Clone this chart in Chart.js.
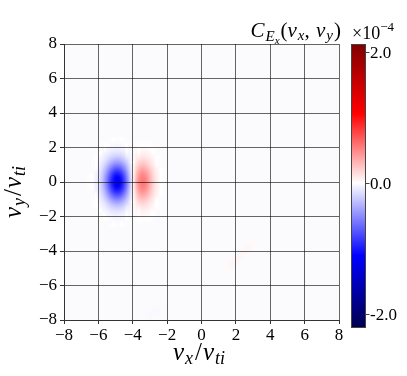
<!DOCTYPE html>
<html><head><meta charset="utf-8">
<script src="https://cdn.jsdelivr.net/npm/chart.js@4/dist/chart.umd.min.js"></script>
<style>html,body{margin:0;padding:0;background:#fff;}#wrap{width:407px;height:376px;position:relative;}</style>
</head><body><div id="wrap"><canvas id="c" width="407" height="376"></canvas></div>
<script>
// ---- data (values in units of 1e-4) ----
const vxCells = [-7.0,-6.75,-6.5,-6.25,-6.0,-5.75,-5.5,-5.25,-5.0,-4.75,-4.5,-4.25,-4.0,-3.75,-3.5,-3.25,-3.0,-2.75,-2.5,-2.25,-2.0];
const vyCells = [2.5,2.25,2.0,1.75,1.5,1.25,1.0,0.75,0.5,0.25,0,-0.25,-0.5,-0.75,-1.0,-1.25,-1.5,-1.75,-2.0,-2.25,-2.5];
const valuesE4 = [
 [0,0,0,0,0,0,0,-0.01,-0.01,-0.01,-0.01,0,0,0,0,0,0,0,0,0,0],
 [0,0,0,0,0,-0.01,-0.01,-0.02,-0.02,-0.02,-0.02,-0.01,0,0.01,0.01,0.01,0.01,0,0,0,0],
 [0,0,0,0,0,-0.01,-0.03,-0.04,-0.05,-0.05,-0.04,-0.02,0,0.02,0.03,0.02,0.01,0.01,0,0,0],
 [0,0,0,0,-0.01,-0.03,-0.05,-0.09,-0.11,-0.10,-0.08,-0.04,0,0.03,0.05,0.05,0.03,0.01,0,0,0],
 [0,0,0,-0.01,-0.02,-0.05,-0.10,-0.16,-0.20,-0.20,-0.15,-0.07,0,0.07,0.10,0.09,0.06,0.03,0.01,0,0],
 [0,0,0,-0.01,-0.03,-0.08,-0.17,-0.28,-0.35,-0.34,-0.25,-0.12,0.01,0.11,0.17,0.16,0.10,0.04,0.01,0,0],
 [0,0,0,-0.01,-0.05,-0.13,-0.27,-0.43,-0.54,-0.52,-0.39,-0.19,0.01,0.17,0.26,0.24,0.15,0.07,0.02,0,0],
 [0,0,0,-0.02,-0.07,-0.18,-0.38,-0.60,-0.76,-0.74,-0.54,-0.27,0.01,0.24,0.37,0.34,0.22,0.10,0.03,0.01,0],
 [0,0,-0.01,-0.03,-0.09,-0.23,-0.48,-0.77,-0.97,-0.94,-0.70,-0.34,0.01,0.31,0.47,0.44,0.28,0.12,0.04,0.01,0],
 [0,0,-0.01,-0.03,-0.10,-0.27,-0.56,-0.89,-1.12,-1.09,-0.80,-0.40,0.02,0.36,0.54,0.51,0.32,0.14,0.04,0.01,0],
 [0,0,-0.01,-0.03,-0.11,-0.28,-0.58,-0.94,-1.18,-1.14,-0.85,-0.42,0.02,0.38,0.57,0.53,0.34,0.15,0.05,0.01,0],
 [0,0,-0.01,-0.03,-0.10,-0.27,-0.56,-0.89,-1.12,-1.09,-0.80,-0.40,0.02,0.36,0.54,0.51,0.32,0.14,0.04,0.01,0],
 [0,0,-0.01,-0.03,-0.09,-0.23,-0.48,-0.77,-0.97,-0.94,-0.70,-0.34,0.01,0.31,0.47,0.44,0.28,0.12,0.04,0.01,0],
 [0,0,0,-0.02,-0.07,-0.18,-0.38,-0.60,-0.76,-0.74,-0.54,-0.27,0.01,0.24,0.37,0.34,0.22,0.10,0.03,0.01,0],
 [0,0,0,-0.01,-0.05,-0.13,-0.27,-0.43,-0.54,-0.52,-0.39,-0.19,0.01,0.17,0.26,0.24,0.15,0.07,0.02,0,0],
 [0,0,0,-0.01,-0.03,-0.08,-0.17,-0.28,-0.35,-0.34,-0.25,-0.12,0.01,0.11,0.17,0.16,0.10,0.04,0.01,0,0],
 [0,0,0,-0.01,-0.02,-0.05,-0.10,-0.16,-0.20,-0.20,-0.15,-0.07,0,0.07,0.10,0.09,0.06,0.03,0.01,0,0],
 [0,0,0,0,-0.01,-0.03,-0.05,-0.09,-0.11,-0.10,-0.08,-0.04,0,0.03,0.05,0.05,0.03,0.01,0,0,0],
 [0,0,0,0,0,-0.01,-0.03,-0.04,-0.05,-0.05,-0.04,-0.02,0,0.02,0.03,0.02,0.01,0.01,0,0,0],
 [0,0,0,0,0,-0.01,-0.01,-0.02,-0.02,-0.02,-0.02,-0.01,0,0.01,0.01,0.01,0.01,0,0,0,0],
 [0,0,0,0,0,0,0,-0.01,-0.01,-0.01,-0.01,0,0,0,0,0,0,0,0,0,0]
];
// faint streaks elsewhere in the plane
const streakVx = [1.5,1.75,2.0,2.25,2.5,2.75,3.0,-3.25,-3.0,-2.75,-2.5,-2.25,-2.0];
const streakVy = [-5.0,-4.75,-4.5,-4.25,-4.0,-3.75,-3.5,-7.75,-7.75,-7.5,-7.5,-7.25,-7.25];
const streakV  = [0.03,0.04,0.05,0.05,0.05,0.04,0.03,-0.02,-0.03,-0.03,-0.03,-0.02,-0.02];
const cellSize = 0.25;
const axisTicks = [-8,-6,-4,-2,0,2,4,6,8];
const cbTicks = [2.0, 0.0, -2.0];
const cbTickLabels = ['2.0','0.0','-2.0'];
const vMin = -2.22, vMax = 2.13;

const SERIF = '"Liberation Serif", "DejaVu Serif", serif';
const seismic = [[0,[0,0,77]],[0.25,[0,0,255]],[0.5,[255,255,255]],[0.75,[255,0,0]],[1,[128,0,0]]];
function cmapRGB(v){
  let t = v<0 ? 0.5*(v - vMin)/(0 - vMin) : 0.5 + 0.5*v/vMax;
  t = Math.max(0, Math.min(1, t));
  for (let i=0;i<seismic.length-1;i++){
    const [a,ca]=seismic[i],[b,cb]=seismic[i+1];
    if (t<=b){ const f=(t-a)/(b-a); return [0,1,2].map(k=>Math.round(ca[k]+(cb[k]-ca[k])*f)); }
  }
  return [128,0,0];
}
const cmap = v => { const c=cmapRGB(v); return `rgb(${c[0]},${c[1]},${c[2]})`; };
function drawParts(ctx, parts, x, y, align){
  let w=0; const ws=[];
  for (const p of parts){ ctx.font=(p[2]?'italic ':'')+p[1]+'px '+SERIF; const m=ctx.measureText(p[0]).width+(p[4]||0); ws.push(m); w+=m; }
  let cx = align==='right'? x-w : align==='center'? x-w/2 : x;
  ctx.textAlign='left'; ctx.textBaseline='alphabetic';
  parts.forEach((p,i)=>{ ctx.font=(p[2]?'italic ':'')+p[1]+'px '+SERIF; ctx.fillText(p[0], cx, y+p[3]); cx+=ws[i]; });
}
const fmt = v => (v<0?'\u2212':'')+Math.abs(v);

const heatmap = {
  id:'heatmap',
  beforeDraw(chart){
    const ctx=chart.ctx, a=chart.chartArea, xs=chart.scales.x, ys=chart.scales.y;
    ctx.save();
    ctx.fillStyle='#fbfbfd'; ctx.fillRect(a.left,a.top,a.right-a.left,a.bottom-a.top);
    const W=vxCells.length, H=vyCells.length;
    const off=document.createElement('canvas'); off.width=W; off.height=H;
    const octx=off.getContext('2d'); const img=octx.createImageData(W,H);
    vyCells.forEach((vy,r)=>vxCells.forEach((vx,c)=>{
      const v=valuesE4[r][c], col=cmapRGB(v), k=(r*W+c)*4;
      img.data[k]=col[0]; img.data[k+1]=col[1]; img.data[k+2]=col[2]; img.data[k+3]= v===0?0:255;
    }));
    octx.putImageData(img,0,0);
    const x0=xs.getPixelForValue(vxCells[0]-cellSize/2), x1=xs.getPixelForValue(vxCells[W-1]+cellSize/2);
    const y0=ys.getPixelForValue(vyCells[0]+cellSize/2), y1=ys.getPixelForValue(vyCells[H-1]-cellSize/2);
    ctx.imageSmoothingEnabled=true; ctx.imageSmoothingQuality='high';
    ctx.drawImage(off,x0,y0,x1-x0,y1-y0);
    ctx.globalAlpha=0.7;
    streakVx.forEach((vx,i)=>{
      const vy=streakVy[i];
      const cx=xs.getPixelForValue(vx), cy=ys.getPixelForValue(vy);
      const r=Math.abs(xs.getPixelForValue(cellSize)-xs.getPixelForValue(0));
      ctx.fillStyle=cmap(streakV[i]); ctx.beginPath(); ctx.arc(cx,cy,r*0.9,0,Math.PI*2); ctx.fill();
    });
    ctx.restore();
  },
  afterDraw(chart){
    const ctx=chart.ctx;
    ctx.save(); ctx.fillStyle='#000';
    drawParts(ctx,[['v',25,true,0,1],['x',18,true,4,2],['/',25,false,0,1],['v',25,true,0,1],['ti',18,true,4,0]],199,360,'center');
    ctx.save(); ctx.translate(21,192); ctx.rotate(-Math.PI/2);
    drawParts(ctx,[['v',25,true,0,1],['y',18,true,4,2],['/',25,false,0,1],['v',25,true,0,1],['ti',18,true,4,0]],0,0,'center');
    ctx.restore();
    drawParts(ctx,[['C',21,true,0,1],['E',15,true,4,0],['x',11,true,7,1],['(',21,false,0,0],['v',21,true,0,1],['x',15,true,3,0],[', ',21,false,0,1],['v',21,true,0,1],['y',15,true,3,1],[')',21,false,0,0]],341,37,'right');
    const cbL=351, cbR=366, cbT=44, cbB=328;
    const cbY=v=>cbB-(v-vMin)/(vMax-vMin)*(cbB-cbT);
    for (let y=cbT;y<cbB;y++){ const v=vMin+(cbB-y-0.5)/(cbB-cbT)*(vMax-vMin); ctx.fillStyle=cmap(v); ctx.fillRect(cbL,y,cbR-cbL,1); }
    ctx.strokeStyle='#444'; ctx.lineWidth=1; ctx.strokeRect(cbL+0.5,cbT+0.5,cbR-cbL-1,cbB-cbT-1);
    ctx.fillStyle='#000'; ctx.font='17px '+SERIF; ctx.textAlign='left'; ctx.textBaseline='middle';
    cbTicks.forEach((v,i)=>{ const y=Math.round(cbY(v))+0.5; ctx.beginPath(); ctx.moveTo(cbR,y); ctx.lineTo(cbR+3.5,y); ctx.stroke(); ctx.fillText(cbTickLabels[i],cbR+4,y+1); });
    drawParts(ctx,[['\u00d7',18,false,0,0],['10',18,false,0,0],['\u22124',13,false,-8,0]],352,39,'left');
    ctx.restore();
  }
};

const tickFont={family:SERIF,size:17};
const gridOpts={color:'rgba(0,0,0,0.6)',lineWidth:1,drawTicks:true,tickLength:4,tickColor:'#333'};
new Chart(document.getElementById('c'),{
  type:'scatter',
  data:{datasets:[{data:[],showLine:false}]},
  options:{
    responsive:false, animation:false, devicePixelRatio:1,
    layout:{padding:{left:0,right:68,top:44,bottom:0}},
    plugins:{legend:{display:false},tooltip:{enabled:false}},
    scales:{
      x:{type:'linear',min:-8,max:8,grid:gridOpts,border:{display:true,color:'#333',width:1},
         afterBuildTicks:s=>{s.ticks=axisTicks.map(v=>({value:v}));},
         afterFit:s=>{s.height=56;},
         ticks:{autoSkip:false,maxRotation:0,color:'#000',font:tickFont,padding:1,callback:v=>fmt(v)}},
      y:{type:'linear',min:-8,max:8,grid:gridOpts,border:{display:true,color:'#333',width:1},
         afterBuildTicks:s=>{s.ticks=axisTicks.map(v=>({value:v}));},
         afterFit:s=>{s.width=64;},
         ticks:{autoSkip:false,color:'#000',font:tickFont,padding:3,callback:v=>fmt(v)}}
    }
  },
  plugins:[heatmap]
});
</script></body></html>
